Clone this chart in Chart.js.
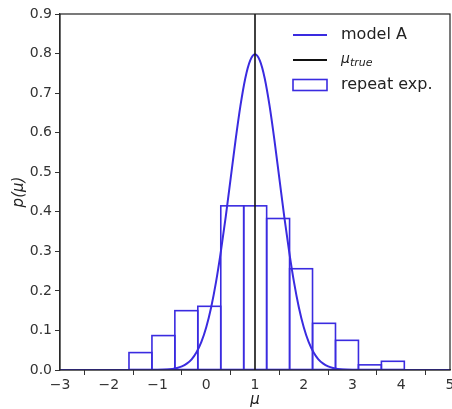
<!DOCTYPE html>
<html>
<head>
<meta charset="UTF-8">
<title>p(μ)</title>
<script src="https://cdn.jsdelivr.net/npm/chart.js"></script>
<style>
  body { margin: 0; background: #fff; }
  #wrap { width: 452px; height: 409px; }
</style>
</head>
<body>
<div id="wrap"><canvas id="grafik" width="452" height="409"></canvas></div>
<script>
// repeat exp. histogram (bin centres and heights)
const binCenters = [-1.350, -0.879, -0.409, 0.062, 0.533, 1.004, 1.474, 1.945, 2.416, 2.887, 3.357, 3.828];
const binHeights = [0.044, 0.087, 0.150, 0.161, 0.415, 0.415, 0.383, 0.256, 0.118, 0.075, 0.013, 0.022];

// model A curve
const curveX = [-3, -1, -0.8, -0.6, -0.5, -0.4, -0.3, -0.2, -0.1, 0, 0.1, 0.2, 0.3, 0.4, 0.5, 0.6, 0.7, 0.8, 0.9,
                1.0, 1.1, 1.2, 1.3, 1.4, 1.5, 1.6, 1.7, 1.8, 1.9, 2.0, 2.1, 2.2, 2.3, 2.4, 2.5, 2.6, 2.8, 3, 5];
const curveY = [0, 0, 0.001, 0.005, 0.009, 0.016, 0.027, 0.045, 0.071, 0.108, 0.158, 0.222, 0.300, 0.388, 0.484, 0.580, 0.667, 0.737, 0.782,
                0.798, 0.782, 0.737, 0.667, 0.580, 0.484, 0.388, 0.300, 0.222, 0.158, 0.108, 0.071, 0.045, 0.027, 0.016, 0.009, 0.005, 0.001, 0, 0];

// true value
const muTrue = 1;

// tick labels
const xTickLabels = ['−3', '−2', '−1', '0', '1', '2', '3', '4', '5'];
const yTickLabels = ['0.0', '0.1', '0.2', '0.3', '0.4', '0.5', '0.6', '0.7', '0.8', '0.9'];

const mavi = '#3a2be0';
const eksen = '#333';

// histogram outlines: matplotlib style, stroked on the bin edges
// (uses the bar geometry that chart.js computed)
const cubukCizgi = {
  id: 'cubukCizgi',
  afterDatasetDraw(chart, args) {
    if (chart.data.datasets[args.index].type !== 'bar') return;
    const ctx = chart.ctx;
    const a = chart.chartArea;
    ctx.save();
    ctx.beginPath();
    ctx.rect(a.left, a.top, a.right - a.left, a.bottom - a.top);
    ctx.clip();
    ctx.strokeStyle = mavi;
    ctx.lineWidth = 1.6;
    args.meta.data.forEach(el => {
      ctx.strokeRect(el.x - el.width / 2, el.y, el.width, el.base - el.y);
    });
    ctx.restore();
  }
};

// legend + frame drawn by hand (inside the plot, top right)
const cerceveVeLejant = {
  id: 'cerceveVeLejant',
  afterDraw(chart) {
    const ctx = chart.ctx;
    const a = chart.chartArea;
    ctx.save();
    ctx.strokeStyle = '#222';
    ctx.lineWidth = 1.2;
    ctx.strokeRect(a.left, a.top, a.right - a.left, a.bottom - a.top);

    const x1 = a.left + 233, x2 = a.left + 267, tx = a.left + 281;
    const y1 = a.top + 21, y2 = a.top + 46, y3 = a.top + 71;

    ctx.lineWidth = 1.8;
    ctx.strokeStyle = mavi;
    ctx.beginPath(); ctx.moveTo(x1, y1); ctx.lineTo(x2, y1); ctx.stroke();
    ctx.strokeStyle = '#111';
    ctx.beginPath(); ctx.moveTo(x1, y2); ctx.lineTo(x2, y2); ctx.stroke();
    ctx.strokeStyle = mavi;
    ctx.lineWidth = 1.6;
    ctx.strokeRect(x1, y3 - 5.5, x2 - x1, 11);

    ctx.fillStyle = '#222';
    ctx.textBaseline = 'middle';
    ctx.textAlign = 'left';
    ctx.font = '16px "DejaVu Sans"';
    ctx.fillText('model A', tx, y1);
    ctx.fillText('repeat exp.', tx, y3);
    ctx.font = 'italic 14px "DejaVu Sans"';
    ctx.fillText('μ', tx, y2 - 1);
    const w = ctx.measureText('μ').width;
    ctx.font = 'italic 11px "DejaVu Sans"';
    ctx.fillText('true', tx + w, y2 + 3);
    ctx.restore();
  }
};

const ctx = document.getElementById('grafik').getContext('2d');
new Chart(ctx, {
  type: 'bar',
  data: {
    datasets: [
      {
        type: 'line',
        label: 'μtrue',
        data: [{ x: muTrue, y: 0 }, { x: muTrue, y: 0.9 }],
        borderColor: '#111',
        borderWidth: 1.6,
        pointRadius: 0
      },
      {
        type: 'line',
        label: 'model A',
        data: curveX.map((x, i) => ({ x: x, y: curveY[i] })),
        borderColor: mavi,
        borderWidth: 2,
        pointRadius: 0,
        fill: false,
        cubicInterpolationMode: 'monotone'
      },
      {
        type: 'bar',
        label: 'repeat exp.',
        data: binCenters.map((x, i) => ({ x: x, y: binHeights[i] })),
        backgroundColor: 'rgba(0,0,0,0)',
        borderWidth: 0,
        barPercentage: 1,
        categoryPercentage: 1
      }
    ]
  },
  options: {
    responsive: false,
    animation: false,
    events: [],
    layout: { padding: { top: 14, right: 2, left: 0, bottom: 0 } },
    plugins: {
      legend: { display: false },
      tooltip: { enabled: false }
    },
    scales: {
      x: {
        type: 'linear',
        min: -3,
        max: 5,
        offset: false,
        grid: { drawOnChartArea: false, drawTicks: true, tickLength: 5, color: eksen, lineWidth: 1 },
        border: { display: true, color: eksen, width: 1.2 },
        ticks: {
          stepSize: 1,
          padding: 2,
          color: eksen,
          font: { family: 'DejaVu Sans', size: 14 },
          maxRotation: 0,
          callback: (v, i) => xTickLabels[i] !== undefined ? xTickLabels[i] : v
        },
        title: {
          display: true,
          text: 'μ',
          color: '#222',
          padding: { top: 0, bottom: 0 },
          font: { family: 'DejaVu Sans', size: 15, style: 'italic', lineHeight: 1.2 }
        },
        afterFit: s => { s.height = 39; s.paddingLeft = 0; s.paddingRight = 0; }
      },
      y: {
        min: 0,
        max: 0.9,
        grid: { drawOnChartArea: false, drawTicks: true, tickLength: 5, color: eksen, lineWidth: 1 },
        border: { display: true, color: eksen, width: 1.2 },
        ticks: {
          stepSize: 0.1,
          padding: 3,
          color: eksen,
          font: { family: 'DejaVu Sans', size: 14 },
          callback: (v, i) => yTickLabels[i] !== undefined ? yTickLabels[i] : v
        },
        title: {
          display: true,
          text: 'p(μ)',
          color: '#222',
          padding: { top: 10, bottom: 0 },
          font: { family: 'DejaVu Sans', size: 15, style: 'italic', lineHeight: 1.2 }
        },
        afterFit: s => { s.width = 60; }
      }
    }
  },
  plugins: [cubukCizgi, cerceveVeLejant]
});
</script>
</body>
</html>
